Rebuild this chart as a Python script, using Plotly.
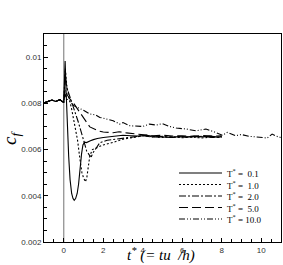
import plotly.graph_objects as go

# ---- data ----
PRE_T = [-1.0, -0.8, -0.6, -0.4, -0.2, 0.0]
PRE_Y = [0.00802, 0.00808, 0.00814, 0.00808, 0.00816, 0.00803]

T01_t = [0.03, 0.07, 0.12, 0.18, 0.25, 0.32, 0.40, 0.47, 0.53, 0.60, 0.68, 0.75, 0.82, 0.90, 0.97,
         1.05, 1.15, 1.25, 1.35, 1.50, 1.70, 2.0, 2.3, 2.6, 3.0, 3.4, 3.8, 4.2, 4.6, 5.0, 5.4,
         5.8, 6.2, 6.6, 7.0, 7.4, 7.8, 8.0]
T01_y = [0.0090, 0.00983, 0.0085, 0.0070, 0.0057, 0.0047, 0.0041, 0.00388, 0.00380, 0.00388,
         0.0041, 0.0045, 0.0052, 0.0058, 0.0062, 0.00632, 0.00630, 0.00635, 0.00638, 0.00643,
         0.00648, 0.00652, 0.00655, 0.00658, 0.00662, 0.00660, 0.00658, 0.00662, 0.00656,
         0.00655, 0.00652, 0.00656, 0.00654, 0.00658, 0.00655, 0.00658, 0.00654, 0.00656]

T1_t = [0.03, 0.08, 0.15, 0.25, 0.40, 0.55, 0.70, 0.82, 0.92, 1.00, 1.10, 1.17, 1.24, 1.32,
        1.45, 1.60, 1.80, 2.0, 2.5, 3.0, 3.5, 4.0, 4.5, 5.0, 5.5, 6.0, 6.5, 7.0, 7.5, 8.0]
T1_y = [0.0088, 0.0095, 0.0088, 0.0083, 0.00775, 0.0071, 0.0064, 0.00558, 0.0050, 0.00478,
        0.0046, 0.0048, 0.00515, 0.00573, 0.0060, 0.00605, 0.0061, 0.0062, 0.00631, 0.00645,
        0.00652, 0.0066, 0.00655, 0.00652, 0.00656, 0.00651, 0.00654, 0.00650, 0.00655, 0.00652]

T2_t = [0.03, 0.08, 0.15, 0.30, 0.49, 0.74, 0.99, 1.16, 1.32, 1.40, 1.49, 1.66, 1.83, 2.2,
        2.6, 3.0, 3.5, 4.0, 4.5, 5.0, 5.5, 6.0, 6.5, 7.0, 7.5, 8.0]
T2_y = [0.0086, 0.0092, 0.0087, 0.0083, 0.0079, 0.00718, 0.00645, 0.00594, 0.00573, 0.0057,
        0.00587, 0.00609, 0.0063, 0.0064, 0.00645, 0.0065, 0.00655, 0.0066, 0.00654, 0.00657,
        0.00652, 0.00656, 0.00653, 0.00657, 0.00652, 0.00655]

T5_t = [0.03, 0.07, 0.15, 0.30, 0.50, 0.82, 1.10, 1.32, 1.74, 2.0, 2.5, 2.8, 3.17, 3.6, 4.0,
        4.5, 5.0, 5.5, 6.0, 6.5, 7.0, 7.5, 8.0]
T5_y = [0.0083, 0.0086, 0.0084, 0.0082, 0.0080, 0.00761, 0.0073, 0.00698, 0.00681, 0.00676,
        0.00673, 0.00677, 0.00672, 0.00668, 0.00663, 0.0066, 0.00662, 0.00658, 0.0066,
        0.00657, 0.00661, 0.00658, 0.0066]

T10_t = [0.03, 0.07, 0.15, 0.30, 0.50, 0.80, 1.00, 1.32, 1.60, 1.83, 2.2, 2.5, 2.83, 3.0,
         3.34, 3.6, 4.0, 4.34, 4.68, 5.0, 5.35, 5.7, 6.19, 6.69, 7.2, 7.7, 8.03, 8.28, 8.7,
         9.0, 9.38, 9.7, 10.05, 10.3, 10.55, 10.75, 11.0]
T10_y = [0.0082, 0.0084, 0.0082, 0.0081, 0.0079, 0.0078, 0.0077, 0.00754, 0.0075, 0.00739,
         0.0073, 0.00725, 0.0071, 0.00717, 0.00703, 0.00702, 0.0070, 0.0071, 0.00706, 0.00712,
         0.0070, 0.00693, 0.00689, 0.00681, 0.00689, 0.00674, 0.00662, 0.00674, 0.0066,
         0.00665, 0.00657, 0.00655, 0.00652, 0.0065, 0.00667, 0.00658, 0.00652]

LABELS = ["T<sup>*</sup> =  0.1", "T<sup>*</sup> =  1.0", "T<sup>*</sup> =  2.0",
          "T<sup>*</sup> =  5.0", "T<sup>*</sup> = 10.0"]
DASHES = ["solid", "2px,2px", "7px,2px,2px,2px", "9px,4px", "6px,2px,1px,2px,1px,2px"]

X_TICKS = [0, 2, 4, 6, 8, 10]
Y_TICKS = [0.002, 0.004, 0.006, 0.008, 0.01]
Y_TICKTEXT = ["0.002", "0.004", "0.006", "0.008", "0.01"]
VLINE_T = [0, 0]
VLINE_Y = [0.002, 0.011]

series = [(T01_t, T01_y), (T1_t, T1_y), (T2_t, T2_y), (T5_t, T5_y), (T10_t, T10_y)]

fig = go.Figure()
fig.add_trace(go.Scatter(x=VLINE_T, y=VLINE_Y, mode="lines",
                         line=dict(color="#8a8a8a", width=1.2), showlegend=False,
                         hoverinfo="skip"))
for (t, y), lab, dash in zip(series, LABELS, DASHES):
    fig.add_trace(go.Scatter(x=PRE_T + t, y=PRE_Y + y, mode="lines", name=lab,
                             showlegend=False,
                             line=dict(color="black", width=1.1, dash=dash)))

# ---- manual legend (decoration, in paper coordinates) ----
PLOT_W, PLOT_H = 237.0, 208.0
leg_x0 = (179 - 44) / PLOT_W
leg_x1 = (222 - 44) / PLOT_W
leg_tx = (225 - 44) / PLOT_W
leg_rows_px = [173, 184.5, 196, 207.5, 219]
serif = "Liberation Serif, Times New Roman"
for lab, dash, ypx in zip(LABELS, DASHES, leg_rows_px):
    yp = (242 - ypx) / PLOT_H
    fig.add_shape(type="line", xref="paper", yref="paper", x0=leg_x0, x1=leg_x1, y0=yp, y1=yp,
                  line=dict(color="black", width=1.1, dash=dash))
    fig.add_annotation(xref="paper", yref="paper", x=leg_tx, y=yp, text=lab, showarrow=False,
                       xanchor="left", yanchor="middle",
                       font=dict(family=serif, size=9, color="black"))

# axis titles
fig.add_annotation(xref="paper", yref="paper", x=(161 - 44) / PLOT_W, y=(242 - 266) / PLOT_H,
                   text="<i>t<sup>*</sup> (= tu&nbsp;&nbsp;/h)</i>", showarrow=False,
                   xanchor="center", yanchor="bottom",
                   font=dict(family=serif, size=15, color="black"))
fig.add_annotation(xref="paper", yref="paper", x=(11 - 44) / PLOT_W, y=(242 - 138) / PLOT_H,
                   text="<i>c<sub>f</sub></i>", showarrow=False, textangle=-90,
                   xanchor="center", yanchor="middle",
                   font=dict(family=serif, size=19, color="black"))

font_ticks = dict(family="Liberation Sans, Arial", size=8, color="#333")
fig.update_layout(
    width=283, height=265,
    margin=dict(l=44, r=2, t=34, b=23),
    paper_bgcolor="white", plot_bgcolor="white",
    showlegend=False,
    xaxis=dict(range=[-1, 11], tickvals=X_TICKS, ticks="inside", ticklen=4,
               tickcolor="black", showline=True, linecolor="black", linewidth=1,
               mirror=True, showgrid=False, zeroline=False, tickfont=font_ticks,
               minor=dict(dtick=0.5, ticks="inside", ticklen=3, tickcolor="black")),
    yaxis=dict(range=[0.002, 0.011], tickvals=Y_TICKS, ticktext=Y_TICKTEXT, ticks="inside",
               ticklen=4, tickcolor="black", showline=True, linecolor="black", linewidth=1,
               mirror=True, showgrid=False, zeroline=False, tickfont=font_ticks,
               minor=dict(dtick=0.0005, ticks="inside", ticklen=3, tickcolor="black")),
)
fig.write_html("out.html")
